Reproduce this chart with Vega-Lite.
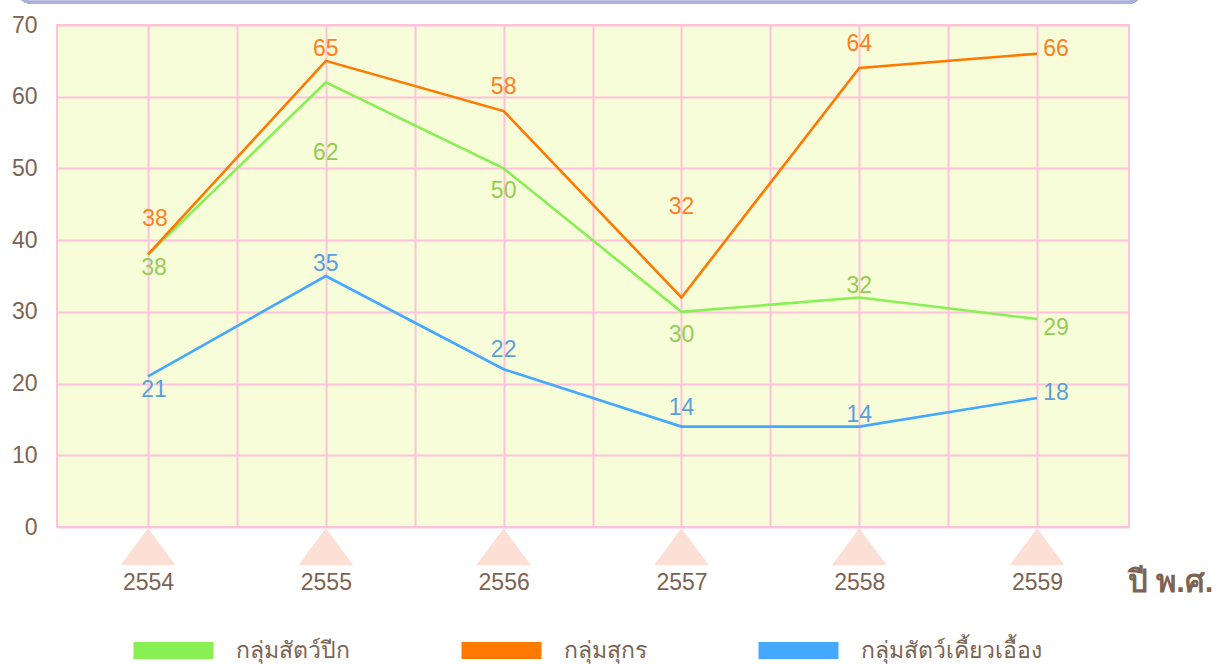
{
  "$schema": "https://vega.github.io/schema/vega-lite/v6.json",
  "width": 1072,
  "height": 502,
  "autosize": {"type": "none"},
  "padding": {"left": 57, "top": 25, "right": 97, "bottom": 137},
  "background": "white",
  "config": {
    "view": {"fill": "#f8fdd9", "stroke": "#ffc2dd", "strokeWidth": 2},
    "font": "Liberation Sans"
  },
  "data": {
    "values": [
      {"year": 2554, "series": "กลุ่มสัตว์ปีก", "value": 38},
      {"year": 2555, "series": "กลุ่มสัตว์ปีก", "value": 62},
      {"year": 2556, "series": "กลุ่มสัตว์ปีก", "value": 50},
      {"year": 2557, "series": "กลุ่มสัตว์ปีก", "value": 30},
      {"year": 2558, "series": "กลุ่มสัตว์ปีก", "value": 32},
      {"year": 2559, "series": "กลุ่มสัตว์ปีก", "value": 29},
      {"year": 2554, "series": "กลุ่มสุกร", "value": 38},
      {"year": 2555, "series": "กลุ่มสุกร", "value": 65},
      {"year": 2556, "series": "กลุ่มสุกร", "value": 58},
      {"year": 2557, "series": "กลุ่มสุกร", "value": 32},
      {"year": 2558, "series": "กลุ่มสุกร", "value": 64},
      {"year": 2559, "series": "กลุ่มสุกร", "value": 66},
      {"year": 2554, "series": "กลุ่มสัตว์เคี้ยวเอื้อง", "value": 21},
      {"year": 2555, "series": "กลุ่มสัตว์เคี้ยวเอื้อง", "value": 35},
      {"year": 2556, "series": "กลุ่มสัตว์เคี้ยวเอื้อง", "value": 22},
      {"year": 2557, "series": "กลุ่มสัตว์เคี้ยวเอื้อง", "value": 14},
      {"year": 2558, "series": "กลุ่มสัตว์เคี้ยวเอื้อง", "value": 14},
      {"year": 2559, "series": "กลุ่มสัตว์เคี้ยวเอื้อง", "value": 18}
    ]
  },
  "encoding": {
    "x": {
      "field": "year",
      "type": "quantitative",
      "scale": {"domain": [2553.488, 2559.517], "nice": false, "zero": false},
      "axis": {
        "values": [2554, 2554.5, 2555, 2555.5, 2556, 2556.5, 2557, 2557.5, 2558, 2558.5, 2559],
        "labelExpr": "datum.value % 1 === 0 ? format(datum.value, 'd') : ''",
        "grid": true,
        "gridColor": "#ffc2dd",
        "gridWidth": 2,
        "gridOpacity": 1,
        "domain": false,
        "ticks": false,
        "labelPadding": 55,
        "labelBaseline": "middle",
        "labelFontSize": 23,
        "labelColor": "#7b6454",
        "labelFont": "Liberation Sans",
        "title": "ปี พ.ศ.",
        "titleX": 1113,
        "titleY": 55,
        "titleAlign": "center",
        "titleBaseline": "middle",
        "titleFontSize": 31,
        "titleFontWeight": "bold",
        "titleColor": "#7b6454"
      }
    },
    "y": {
      "field": "value",
      "type": "quantitative",
      "scale": {"domain": [0, 70], "nice": false},
      "axis": {
        "values": [0, 10, 20, 30, 40, 50, 60, 70],
        "grid": true,
        "gridColor": "#ffc2dd",
        "gridWidth": 2,
        "gridOpacity": 1,
        "domain": false,
        "ticks": false,
        "labelPadding": 20,
        "labelFontSize": 23,
        "labelColor": "#7b6454",
        "labelFont": "Liberation Sans",
        "title": null
      }
    }
  },
  "layer": [
    {
      "mark": {"type": "rect", "fill": "white", "stroke": "#a9b0da", "strokeWidth": 3.5, "cornerRadius": 11},
      "encoding": {
        "x": {"datum": 2553.278, "type": "quantitative"},
        "x2": {"datum": 2559.578},
        "y": {"datum": 73.2, "type": "quantitative"},
        "y2": {"datum": 82}
      }
    },
    {
      "transform": [{"filter": "datum.series === 'กลุ่มสุกร'"}],
      "mark": {"type": "point", "shape": "M0,-0.673L1,0.673L-1,0.673Z", "size": 3025, "filled": true, "fill": "#fde0d5", "opacity": 1, "strokeWidth": 0},
      "encoding": {
        "y": {"datum": -2.76, "type": "quantitative"}
      }
    },
    {
      "mark": {"type": "line", "strokeWidth": 2.6},
      "encoding": {
        "color": {
          "field": "series",
          "type": "nominal",
          "sort": ["กลุ่มสัตว์ปีก", "กลุ่มสุกร", "กลุ่มสัตว์เคี้ยวเอื้อง"],
          "scale": {
            "domain": ["กลุ่มสัตว์ปีก", "กลุ่มสุกร", "กลุ่มสัตว์เคี้ยวเอื้อง"],
            "range": ["#88ef55", "#ff7800", "#45a8ff"]
          },
          "legend": {
            "orient": "none",
            "legendX": 68,
            "legendY": 577,
            "direction": "horizontal",
            "columns": 3,
            "gridAlign": "none",
            "columnPadding": 77,
            "symbolType": "M-1,0L1,0",
            "symbolSize": 6400,
            "symbolStrokeWidth": 17,
            "labelFontSize": 23,
            "labelColor": "#7b6454",
            "labelOffset": 14,
            "labelLimit": 400,
            "title": null,
            "padding": 0,
            "encode": {"symbols": {"update": {"strokeWidth": {"value": 17}}}}
          }
        }
      }
    },
    {
      "encoding": {
        "text": {"field": "value", "type": "quantitative"},
        "color": {
          "condition": [
            {"test": "datum.series === 'กลุ่มสุกร'", "value": "#ff7f24"},
            {"test": "datum.series === 'กลุ่มสัตว์ปีก'", "value": "#94cc55"}
          ],
          "value": "#5a9fdc"
        }
      },
      "layer": [
        {
          "transform": [{"filter": "(datum.series === 'กลุ่มสุกร' && datum.year === 2555) || (datum.series === 'กลุ่มสัตว์เคี้ยวเอื้อง' && (datum.year === 2555 || datum.year === 2558)) || (datum.series === 'กลุ่มสัตว์ปีก' && datum.year === 2558)"}],
          "mark": {"type": "text", "fontSize": 23, "baseline": "middle", "dy": -12}
        },
        {
          "transform": [{"filter": "datum.series === 'กลุ่มสัตว์เคี้ยวเอื้อง' && (datum.year === 2556 || datum.year === 2557)"}],
          "mark": {"type": "text", "fontSize": 23, "baseline": "middle", "dy": -19}
        },
        {
          "transform": [{"filter": "datum.series === 'กลุ่มสุกร' && (datum.year === 2556 || datum.year === 2558)"}],
          "mark": {"type": "text", "fontSize": 23, "baseline": "middle", "dy": -24}
        },
        {
          "transform": [{"filter": "datum.series === 'กลุ่มสุกร' && datum.year === 2554"}],
          "mark": {"type": "text", "fontSize": 23, "baseline": "middle", "dy": -35, "dx": 7}
        },
        {
          "transform": [{"filter": "datum.series === 'กลุ่มสุกร' && datum.year === 2557"}],
          "mark": {"type": "text", "fontSize": 23, "baseline": "middle", "dy": -91}
        },
        {
          "transform": [{"filter": "datum.year === 2554 && datum.series !== 'กลุ่มสุกร'"}],
          "mark": {"type": "text", "fontSize": 23, "baseline": "middle", "dy": 14, "dx": 6}
        },
        {
          "transform": [{"filter": "datum.series === 'กลุ่มสัตว์ปีก' && (datum.year === 2556 || datum.year === 2557)"}],
          "mark": {"type": "text", "fontSize": 23, "baseline": "middle", "dy": 23}
        },
        {
          "transform": [{"filter": "datum.series === 'กลุ่มสัตว์ปีก' && datum.year === 2555"}],
          "mark": {"type": "text", "fontSize": 23, "baseline": "middle", "dy": 71}
        },
        {
          "transform": [{"filter": "datum.year === 2559 && datum.series !== 'กลุ่มสัตว์ปีก'"}],
          "mark": {"type": "text", "fontSize": 23, "baseline": "middle", "dy": -5, "dx": 19}
        },
        {
          "transform": [{"filter": "datum.year === 2559 && datum.series === 'กลุ่มสัตว์ปีก'"}],
          "mark": {"type": "text", "fontSize": 23, "baseline": "middle", "dy": 9, "dx": 19}
        }
      ]
    }
  ]
}
